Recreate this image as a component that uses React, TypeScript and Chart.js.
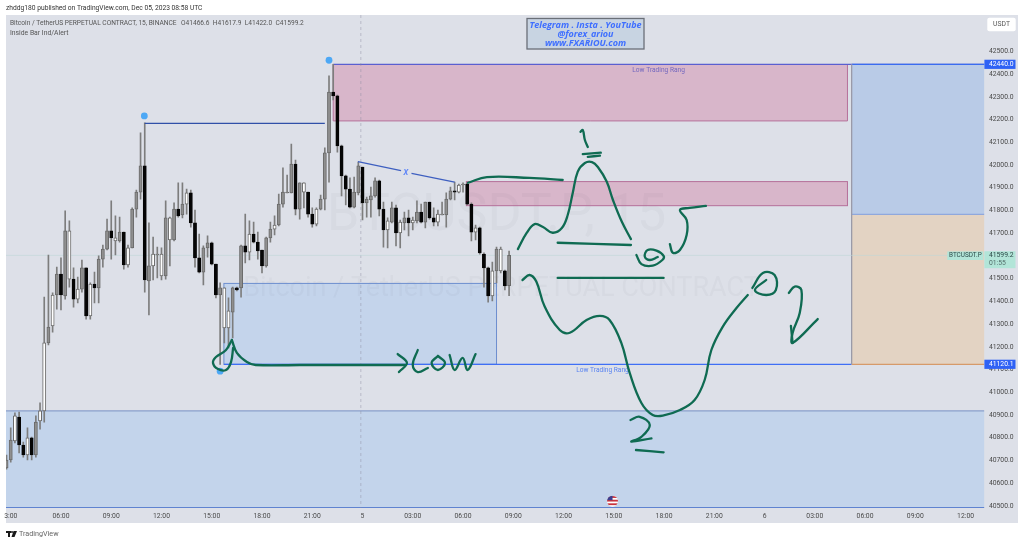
import React, { useEffect, useRef } from "react";
import { Chart, registerables } from "chart.js";

Chart.register(...registerables);

// ---- candles: one entry per 15 minute bar, first bar is -13 (06:00 of Dec 4 is bar 0)
const firstBar = -13;
const highs = [
  40721,40840,40906,40910,40778,40840,40800,40893,40950,41416,
  41601,41434,41548,41588,41795,41751,41544,41504,41579,41544,
  41478,41526,41597,41645,41759,41839,41773,41768,41702,41645,
  41808,41887,42138,42182,41742,41680,41636,41632,41839,41768,
  41830,41918,41918,41891,41887,41799,41693,41641,41685,41658,
  41561,41478,41456,41412,41460,41460,41645,41781,41751,41746,
  41702,41623,41680,41746,41773,41869,41984,41953,42089,42019,
  41918,41918,41878,41808,41808,41865,42072,42389,42440,42305,
  42085,41953,41940,41944,42010,41988,41856,41900,41940,41931,
  41834,41764,41834,41821,41755,41790,41799,41768,41839,41825,
  41834,41834,41808,41799,41834,41874,41900,41922,41913,41918,
  41918,41830,41733,41724,41610,41548,41570,41636,41636,41535,41617.9,
];
const lows = [
  40659,40690,40774,40730,40712,40699,40699,40712,40835,40866,
  41205,41262,41363,41359,41407,41460,41372,41390,41438,41319,
  41319,41390,41390,41548,41623,41583,41601,41658,41539,41548,
  41632,41768,41847,41438,41337,41491,41500,41491,41495,41553,
  41663,41768,41764,41781,41724,41548,41522,41469,41592,41557,
  41412,41120.1,41214,41192,41236,41443,41416,41566,41579,41654,
  41583,41522,41548,41658,41689,41729,41812,41874,41874,41777,
  41759,41808,41768,41724,41729,41799,41799,41922,42283,42054,
  41861,41821,41808,41808,41865,41755,41768,41768,41856,41773,
  41636,41632,41742,41641,41632,41711,41685,41711,41742,41742,
  41720,41759,41729,41729,41777,41724,41843,41843,41874,41878,
  41821,41663,41667,41605,41460,41394,41399,41478,41522,41447,41422,
];
const opens = [
  40664,40699,40783,40888,40765,40721,40796,40721,40871,40915,
  41214,41289,41425,41517,41421,41495,41495,41407,41451,41544,
  41333,41473,41456,41583,41627,41707,41663,41663,41702,41557,
  41632,41803,41878,41993,41487,41553,41601,41509,41509,41667,
  41667,41803,41777,41825,41874,41742,41588,41526,41632,41654,
  41561,41425,41280,41280,41350,41456,41456,41641,41614,41693,
  41658,41623,41553,41676,41715,41733,41825,41874,41874,42001,
  41803,41878,41878,41781,41737,41803,41847,42050,42318,42301,
  42081,41949,41891,41812,41874,41988,41830,41843,41861,41927,
  41803,41711,41746,41808,41698,41742,41764,41742,41751,41790,
  41746,41834,41764,41746,41777,41777,41847,41883,41878,41909,
  41913,41825,41702,41720,41605,41544,41421,41531,41531,41531,41466.6,
];
const closes = [
  40699,40787,40893,40765,40721,40796,40721,40866,40915,41214,
  41284,41425,41517,41425,41707,41707,41407,41451,41544,41333,
  41473,41456,41583,41627,41707,41676,41676,41702,41557,41632,
  41803,41878,41993,41491,41553,41605,41605,41605,41764,41764,
  41803,41773,41825,41874,41742,41588,41526,41632,41654,41561,
  41425,41456,41456,41355,41456,41447,41641,41614,41693,41658,
  41619,41553,41676,41715,41733,41825,41878,41878,42001,41803,
  41918,41918,41781,41737,41803,41847,42050,42318,42301,42081,
  41949,41891,41812,41878,41993,41830,41847,41861,41927,41803,
  41711,41751,41808,41698,41746,41764,41742,41755,41790,41746,
  41834,41764,41746,41781,41781,41847,41883,41878,41909,41913,
  41825,41702,41720,41610,41544,41421,41531,41627,41627,41465,41599.2,
];
// up candles whose body reads white rather than grey (position in the lists above)
const whiteBodies = [2,5,8,9,11,15,17,20,26,29,35,37,39,43,52,53,58,64,71,74,91,94,97,103,108,112,116,118];

// ---- axes
const priceTicks = [40500,40600,40700,40800,40900,41000,41100,41200,41300,41400,41500,41600,41700,41800,41900,42000,42100,42200,42300,42400,42500];
const timeTickBars = [-12,0,12,24,36,48,60,72,84,96,108,120,132,144,156,168,180,192,204,216];
const timeTickLabels = ["3:00","06:00","09:00","12:00","15:00","18:00","21:00","5","03:00","06:00","09:00","12:00","15:00","18:00","21:00","6","03:00","06:00","09:00","12:00"];
const barMin = -13.13;
const barMax = 220.5;
const priceMin = 40487.8;
const priceMax = 42657;

// ---- price levels and zones
const lastPrice = 41599.2;
const rangeHigh = 42440;
const rangeLow = 41120.1;
const supplyOne = [42440, 42191];
const supplyTwo = [41924, 41818];
const demandOne = [41476, 41120.1];
const demandTwo = [40915, 40487.8];
const targetSplit = 41780;
const zoneBarsLeft = [65, 96.8, 38.9, barMin, 188.8];
const zoneBarsRight = [187.8, 187.8, 104, barMax, barMax];
const cursorBar = 71.6;

// ---- marks drawn on the chart: [bar, price]
type P = [number, number];
const levelLine: P[] = [[20, 42180], [63, 42180]];
const trendA: P[] = [[70.9, 42012], [81.2, 41972]];
const trendB: P[] = [[83.7, 41960], [94, 41922]];
const dots: P[] = [[19.9, 42213], [64, 42458], [38, 41090]];

const inkOne: P[] = [[124.05,42143],[124.6,42151],[125.1,42107],[125.8,42076]];
const inkOneBarA: P[] = [[124.6,42045],[128.9,42051]];
const inkOneBarB: P[] = [[125.8,42033],[128.7,42038]];
const inkPeak: P[] = [[109.1,41627],[111.2,41698],[113.1,41737],[115.1,41724],[117.4,41699],[119.6,41720],[121,41777],[122.2,41874],[123.4,41968],[125.1,42006],[126.8,42010],[128.2,41988],[130.3,41924],[131.8,41843],[133.9,41748],[136.1,41671]];
const inkTop: P[] = [[97.2,41919],[101.7,41944],[111.9,41940],[119.8,41931]];
const inkMidA: P[] = [[118.6,41655],[136.1,41645]];
const inkMidB: P[] = [[118.6,41500],[143.9,41500]];
const inkLoopA: P[] = [[137.4,41601],[138.6,41561],[141.3,41554],[143.6,41579],[143.9,41597],[142.2,41620],[140.1,41623],[139.4,41594],[140.6,41579],[142.5,41592]];
const inkFive: P[] = [[145.4,41649],[146.1,41611],[147.8,41623],[149.4,41689],[149.4,41755],[147.8,41799],[150.1,41808],[154,41817]];
const inkValley: P[] = [[110.2,41491],[111.9,41513],[113.5,41484],[115.5,41374],[119.1,41271],[121.5,41259],[125.5,41315],[128.7,41333],[131,41315],[133.8,41214],[135.8,41082],[138.6,40950],[141.3,40897],[143.7,40894],[147.8,40919],[151.3,40963],[153.7,41051],[155.3,41183],[158,41285],[161.3,41368],[164,41425]];
const inkLoopB: P[] = [[165.1,41456],[167.6,41522],[170.4,41513],[170.7,41447],[168.4,41425],[165.7,41447],[168.4,41491]];
const inkArrow: P[] = [[173.8,41434],[175.2,41462],[176.8,41447],[176.4,41346],[174.7,41258],[174.7,41214],[180.7,41319]];
const inkArrowBarb: P[] = [[174.3,41289],[174.7,41214]];
const inkTwo: P[] = [[136,40875],[138.2,40889],[140.6,40853],[138.6,40801],[136.2,40780],[141,40794]];
const inkTwoBar: P[] = [[137.3,40743],[143.9,40733]];
const inkCircle: P[] = [[40.8,41227],[39.4,41183],[37,41152],[36.3,41126],[37.5,41099],[39.4,41095],[40.6,41130],[41.1,41192]];
const inkLowLine: P[] = [[40.8,41227],[42,41170],[44.4,41130],[46.5,41117],[57,41117],[76.1,41117],[82.1,41117]];
const inkLowHead: P[] = [[80.4,41165],[82.6,41126],[80.7,41086]];
const inkL: P[] = [[85.2,41183],[84,41117],[85.2,41086],[87.6,41104]];
const inkO: P[] = [[90,41157],[88.5,41126],[90,41095],[91.7,41126],[90,41157]];
const inkW: P[] = [[92.8,41161],[94,41095],[95.9,41148],[97.1,41095],[99,41165]];

const inkStrokes = [inkOne, inkOneBarA, inkOneBarB, inkPeak, inkTop, inkMidA, inkMidB, inkLoopA, inkFive, inkValley, inkLoopB, inkArrow, inkArrowBarb, inkTwo, inkTwoBar, inkCircle, inkLowLine, inkLowHead, inkL, inkO, inkW];

// ---- texts
const publishedText = "zhddg180 published on TradingView.com, Dec 05, 2023 08:58 UTC";
const titleText = "Bitcoin / TetherUS PERPETUAL CONTRACT, 15, BINANCE";
const ohlcText = "O41466.6  H41617.9  L41422.0  C41599.2";
const indicatorText = "Inside Bar Ind/Alert";
const bannerLines = ["Telegram . Insta . YouTube", "@forex_ariou", "www.FXARIOU.com"];
const zoneLabel = "Low Trading Rang";
const watermarkBig = "BTCUSDT.P, 15";
const watermarkSmall = "Bitcoin / TetherUS PERPETUAL CONTRACT";

const FONT = "Roboto, 'Liberation Sans', sans-serif";
const INK = "#0f6b52";
const PANE = "#dde0e8";

function xyData(points: P[]) {
  return points.map(([x, y]) => ({ x, y }));
}

const paintPlugin = {
  id: "tvPaint",
  beforeDraw(chart: any) {
    const { ctx, chartArea: a, scales } = chart;
    const paneRight = scales.y.right;
    const paneBottom = scales.x.bottom;
    ctx.save();
    ctx.fillStyle = PANE;
    ctx.fillRect(a.left, a.top, paneRight - a.left, paneBottom - a.top);
    ctx.restore();
  },
  beforeDatasetsDraw(chart: any) {
    const { ctx, chartArea: a, scales } = chart;
    const X = (v: number) => scales.x.getPixelForValue(v);
    const Y = (v: number) => scales.y.getPixelForValue(v);
    const zone = (i: number, top: number, bottom: number, fill: string) => {
      ctx.fillStyle = fill;
      ctx.fillRect(X(zoneBarsLeft[i]), Y(top), X(zoneBarsRight[i]) - X(zoneBarsLeft[i]), Y(bottom) - Y(top));
    };
    const seg = (x0: number, y0: number, x1: number, y1: number, color: string, w = 1) => {
      ctx.strokeStyle = color;
      ctx.lineWidth = w;
      ctx.beginPath();
      ctx.moveTo(x0, y0);
      ctx.lineTo(x1, y1);
      ctx.stroke();
    };
    ctx.save();
    ctx.beginPath();
    ctx.rect(a.left, a.top, a.right - a.left, a.bottom - a.top + 1);
    ctx.clip();

    // zones
    zone(0, supplyOne[0], supplyOne[1], "#d8b6ca");
    zone(1, supplyTwo[0], supplyTwo[1], "#d8b6ca");
    zone(2, demandOne[0], demandOne[1], "#c4d4eb");
    zone(3, demandTwo[0], demandTwo[1], "#c3d4eb");
    zone(4, rangeHigh, targetSplit, "#b9cbe7");
    zone(4, targetSplit, rangeLow, "#e3d3c3");

    // watermark
    ctx.textAlign = "left";
    ctx.textBaseline = "middle";
    ctx.fillStyle = "rgba(60,70,90,0.035)";
    ctx.font = `52px ${FONT}`;
    ctx.fillText(watermarkBig, X(63.5), Y(41770));
    ctx.font = `27px ${FONT}`;
    ctx.fillText(watermarkSmall, X(43.5), Y(41450));

    const [l0, l1, l2, l3, l4] = zoneBarsLeft.map(X);
    const [r0, r1, r2, r3, r4] = zoneBarsRight.map(X);
    // supply borders
    seg(l0, Y(supplyOne[1]), r0, Y(supplyOne[1]), "#b5709a");
    seg(l0, Y(supplyOne[0]), l0, Y(supplyOne[1]), "#b5709a");
    seg(r0, Y(supplyOne[0]), r0, Y(supplyOne[1]), "#b5709a");
    ctx.strokeStyle = "#b5709a";
    ctx.lineWidth = 1;
    ctx.strokeRect(l1, Y(supplyTwo[0]), r1 - l1, Y(supplyTwo[1]) - Y(supplyTwo[0]));
    // demand borders
    ctx.strokeStyle = "#6c8ecf";
    ctx.strokeRect(l2, Y(demandOne[0]), r2 - l2, Y(demandOne[1]) - Y(demandOne[0]));
    seg(l3, Y(demandTwo[0]), r3, Y(demandTwo[0]), "#8a9fcb", 1.2);
    seg(l3, Y(demandTwo[1]) - 0.5, r3, Y(demandTwo[1]) - 0.5, "#5f83d0", 1.2);
    // range lines
    seg(l0, Y(rangeHigh), a.right, Y(rangeHigh), "#5a5fd0", 1.2);
    seg(l4, Y(rangeHigh), a.right, Y(rangeHigh), "#3a6cf0", 1.2);
    seg(l2, Y(rangeLow), l4, Y(rangeLow), "#3f6ff5", 1.2);
    seg(l4, Y(rangeLow), r4, Y(rangeLow), "#d69a6a", 1.2);
    seg(l4, Y(targetSplit), r4, Y(targetSplit), "#7f9fe0", 1);
    seg(l4, Y(rangeHigh), l4, Y(rangeLow), "#9a9aa8", 1.3);

    // faint session line and last price line
    ctx.setLineDash([3, 3]);
    seg(X(cursorBar), a.top, X(cursorBar), a.bottom, "rgba(140,140,160,0.45)");
    ctx.setLineDash([]);
    seg(a.left, Y(lastPrice), a.right, Y(lastPrice), "rgba(190,215,215,0.55)");

    // zone captions
    ctx.textAlign = "center";
    ctx.font = `6.6px ${FONT}`;
    ctx.fillStyle = "#7468bf";
    ctx.fillText(zoneLabel, X(142.7), Y(42415));
    ctx.fillStyle = "#5a84f0";
    ctx.fillText(zoneLabel, X(129.3), Y(41095));
    ctx.restore();
  },
  afterDraw(chart: any) {
    const { ctx, scales } = chart;
    const X = (v: number) => scales.x.getPixelForValue(v);
    const Y = (v: number) => scales.y.getPixelForValue(v);
    const axisLeft = scales.y.left;
    const axisRight = scales.y.right;
    ctx.save();
    ctx.textBaseline = "middle";

    // trend label
    ctx.textAlign = "center";
    ctx.font = `italic 500 10px ${FONT}`;
    ctx.fillStyle = "#5f86f8";
    ctx.fillText("x", X(82.4), Y(41966));

    // header
    ctx.textAlign = "left";
    ctx.font = `6.7px ${FONT}`;
    ctx.fillStyle = "#333";
    ctx.fillText(publishedText, 6, 8);
    ctx.fillStyle = "#555";
    ctx.font = `6.6px ${FONT}`;
    ctx.fillText(titleText, 10, 23);
    ctx.fillText(ohlcText, 181, 23);
    ctx.font = `6.8px ${FONT}`;
    ctx.fillText(indicatorText, 10, 33);

    // banner
    ctx.fillStyle = "#c8d4e2";
    ctx.fillRect(527, 18.5, 117, 30.5);
    ctx.strokeStyle = "#6a6f78";
    ctx.lineWidth = 1.3;
    ctx.strokeRect(527, 18.5, 117, 30.5);
    ctx.textAlign = "center";
    ctx.fillStyle = "#3f6fff";
    ctx.font = `italic 700 9px 'Open Sans', ${FONT}`;
    bannerLines.forEach((line, i) => ctx.fillText(line, 585.5, 25 + i * 9));

    // currency button
    ctx.fillStyle = "#fff";
    ctx.beginPath();
    ctx.roundRect(987.3, 17.7, 28.4, 13.5, 2);
    ctx.fill();
    ctx.fillStyle = "#555";
    ctx.font = `6.8px ${FONT}`;
    ctx.fillText("USDT", 1001.5, 24.8);

    // price tags
    const tag = (price: number, text: string, bg: string) => {
      const y = Y(price);
      ctx.fillStyle = bg;
      ctx.fillRect(axisLeft, y - 4.6, axisRight - axisLeft - 2.5, 9.2);
      ctx.fillStyle = "#fff";
      ctx.textAlign = "left";
      ctx.font = `6.8px ${FONT}`;
      ctx.fillText(text, axisLeft + 4.5, y + 0.2);
    };
    tag(rangeHigh, rangeHigh.toFixed(1), "#2f62f5");
    tag(rangeLow, rangeLow.toFixed(1), "#2f62f5");

    const ly = Y(lastPrice);
    ctx.fillStyle = "#b2e5d8";
    ctx.fillRect(axisLeft, ly - 4.2, axisRight - axisLeft - 2.5, 17);
    ctx.fillRect(947.3, ly - 4, 36, 8.6);
    ctx.fillStyle = "#2d4a48";
    ctx.textAlign = "left";
    ctx.font = `6.8px ${FONT}`;
    ctx.fillText(lastPrice.toFixed(1), axisLeft + 4.5, ly);
    ctx.fillStyle = "#54706c";
    ctx.fillText("01:55", axisLeft + 4.5, ly + 8);
    ctx.fillStyle = "#2d4a48";
    ctx.font = `6.4px ${FONT}`;
    ctx.fillText("BTCUSDT.P", 949, ly + 0.2);

    // economic event flag
    const fx = X(131.7);
    const fy = Y(40518);
    ctx.save();
    ctx.beginPath();
    ctx.arc(fx, fy, 5.5, 0, Math.PI * 2);
    ctx.clip();
    ctx.fillStyle = "#fff";
    ctx.fillRect(fx - 6, fy - 6, 12, 12);
    ctx.fillStyle = "#c8323c";
    for (let k = 0; k < 3; k++) ctx.fillRect(fx - 6, fy - 5 + k * 3.6, 12, 1.8);
    ctx.fillStyle = "#3c3f8f";
    ctx.fillRect(fx - 6, fy - 6, 6, 5);
    ctx.restore();

    // footer logo
    ctx.fillStyle = "#1a1a1a";
    ctx.fillRect(6, 531, 5, 2);
    ctx.fillRect(8, 531, 2, 6);
    ctx.beginPath();
    ctx.arc(12, 532, 1, 0, Math.PI * 2);
    ctx.fill();
    ctx.beginPath();
    ctx.moveTo(13.5, 531);
    ctx.lineTo(17, 531);
    ctx.lineTo(14.5, 537);
    ctx.lineTo(11.5, 537);
    ctx.fill();
    ctx.fillStyle = "#666";
    ctx.textAlign = "left";
    ctx.font = `7.2px ${FONT}`;
    ctx.fillText("TradingView", 19, 534.3);
    ctx.restore();
  },
};

export default function App() {
  const ref = useRef<HTMLCanvasElement | null>(null);
  useEffect(() => {
    if (!ref.current) return;
    const bars = highs.map((_, i) => firstBar + i);
    const white = new Set(whiteBodies);
    const wicks = bars.map((x, i) => ({ x, y: [lows[i], highs[i]] }));
    const bodies = bars.map((x, i) => ({ x, y: [opens[i], closes[i]] }));
    const fills = bars.map((_, i) => (closes[i] < opens[i] ? "#050505" : white.has(i) ? "#ffffff" : "#8f8f8f"));
    const edges = bars.map((_, i) => (closes[i] < opens[i] ? "#050505" : "#6a6a6a"));

    const lineStyle = { pointRadius: 0, fill: false, order: 1, clip: false };
    const datasets: any[] = [
      { type: "bar", data: wicks, backgroundColor: "#7d7d7d", barThickness: 1, grouped: false, order: 4 },
      { type: "bar", data: bodies, backgroundColor: fills, borderColor: edges, borderWidth: 1, borderSkipped: false, barThickness: 3.2, grouped: false, order: 3 },
      { type: "line", data: xyData(levelLine), borderColor: "#3050a8", borderWidth: 1.4, ...lineStyle, order: 2 },
      { type: "line", data: xyData(trendA), borderColor: "#3e5fc0", borderWidth: 1.2, ...lineStyle, order: 2 },
      { type: "line", data: xyData(trendB), borderColor: "#3e5fc0", borderWidth: 1.2, ...lineStyle, order: 2 },
      { type: "line", data: xyData(dots), showLine: false, pointRadius: 3.4, pointBackgroundColor: "#4da8f5", pointBorderWidth: 0, order: 2 },
      ...inkStrokes.map((s) => ({
        type: "line",
        data: xyData(s),
        borderColor: INK,
        borderWidth: 2.3,
        tension: 0.4,
        borderCapStyle: "round",
        borderJoinStyle: "round",
        ...lineStyle,
      })),
    ];

    const chart = new Chart(ref.current, {
      type: "bar",
      data: { datasets },
      plugins: [paintPlugin],
      options: {
        animation: false,
        responsive: false,
        layout: { padding: { left: 6, top: 15, right: 6, bottom: 21 } },
        plugins: { legend: { display: false }, tooltip: { enabled: false } },
        scales: {
          x: {
            type: "linear",
            offset: false,
            min: barMin,
            max: barMax,
            grid: { display: false, drawTicks: false },
            border: { display: false },
            afterBuildTicks(scale: any) {
              scale.ticks = timeTickBars.map((value) => ({ value }));
            },
            afterFit(scale: any) {
              scale.height = 15;
            },
            ticks: {
              autoSkip: false,
              maxRotation: 0,
              padding: 4,
              color: "#4a4a4a",
              font: { size: 6.8, family: FONT },
              callback: (_v: any, i: number) => timeTickLabels[i],
            },
          },
          y: {
            type: "linear",
            position: "right",
            min: priceMin,
            max: priceMax,
            grid: { display: false, drawTicks: false },
            border: { display: false },
            afterBuildTicks(scale: any) {
              scale.ticks = priceTicks.map((value) => ({ value }));
            },
            afterFit(scale: any) {
              scale.width = 33.6;
            },
            ticks: {
              autoSkip: false,
              padding: 4.5,
              labelOffset: 0.7,
              color: "#4a4a4a",
              font: { size: 6.8, family: FONT },
              callback: (v: any) => Number(v).toFixed(1),
            },
          },
        },
      },
    } as any);
    return () => chart.destroy();
  }, []);
  return (
    <canvas
      ref={ref}
      width={1024}
      height={544}
      style={{ position: "absolute", left: 0, top: 0, width: 1024, height: 544, display: "block", filter: "blur(0.3px)" }}
    />
  );
}
